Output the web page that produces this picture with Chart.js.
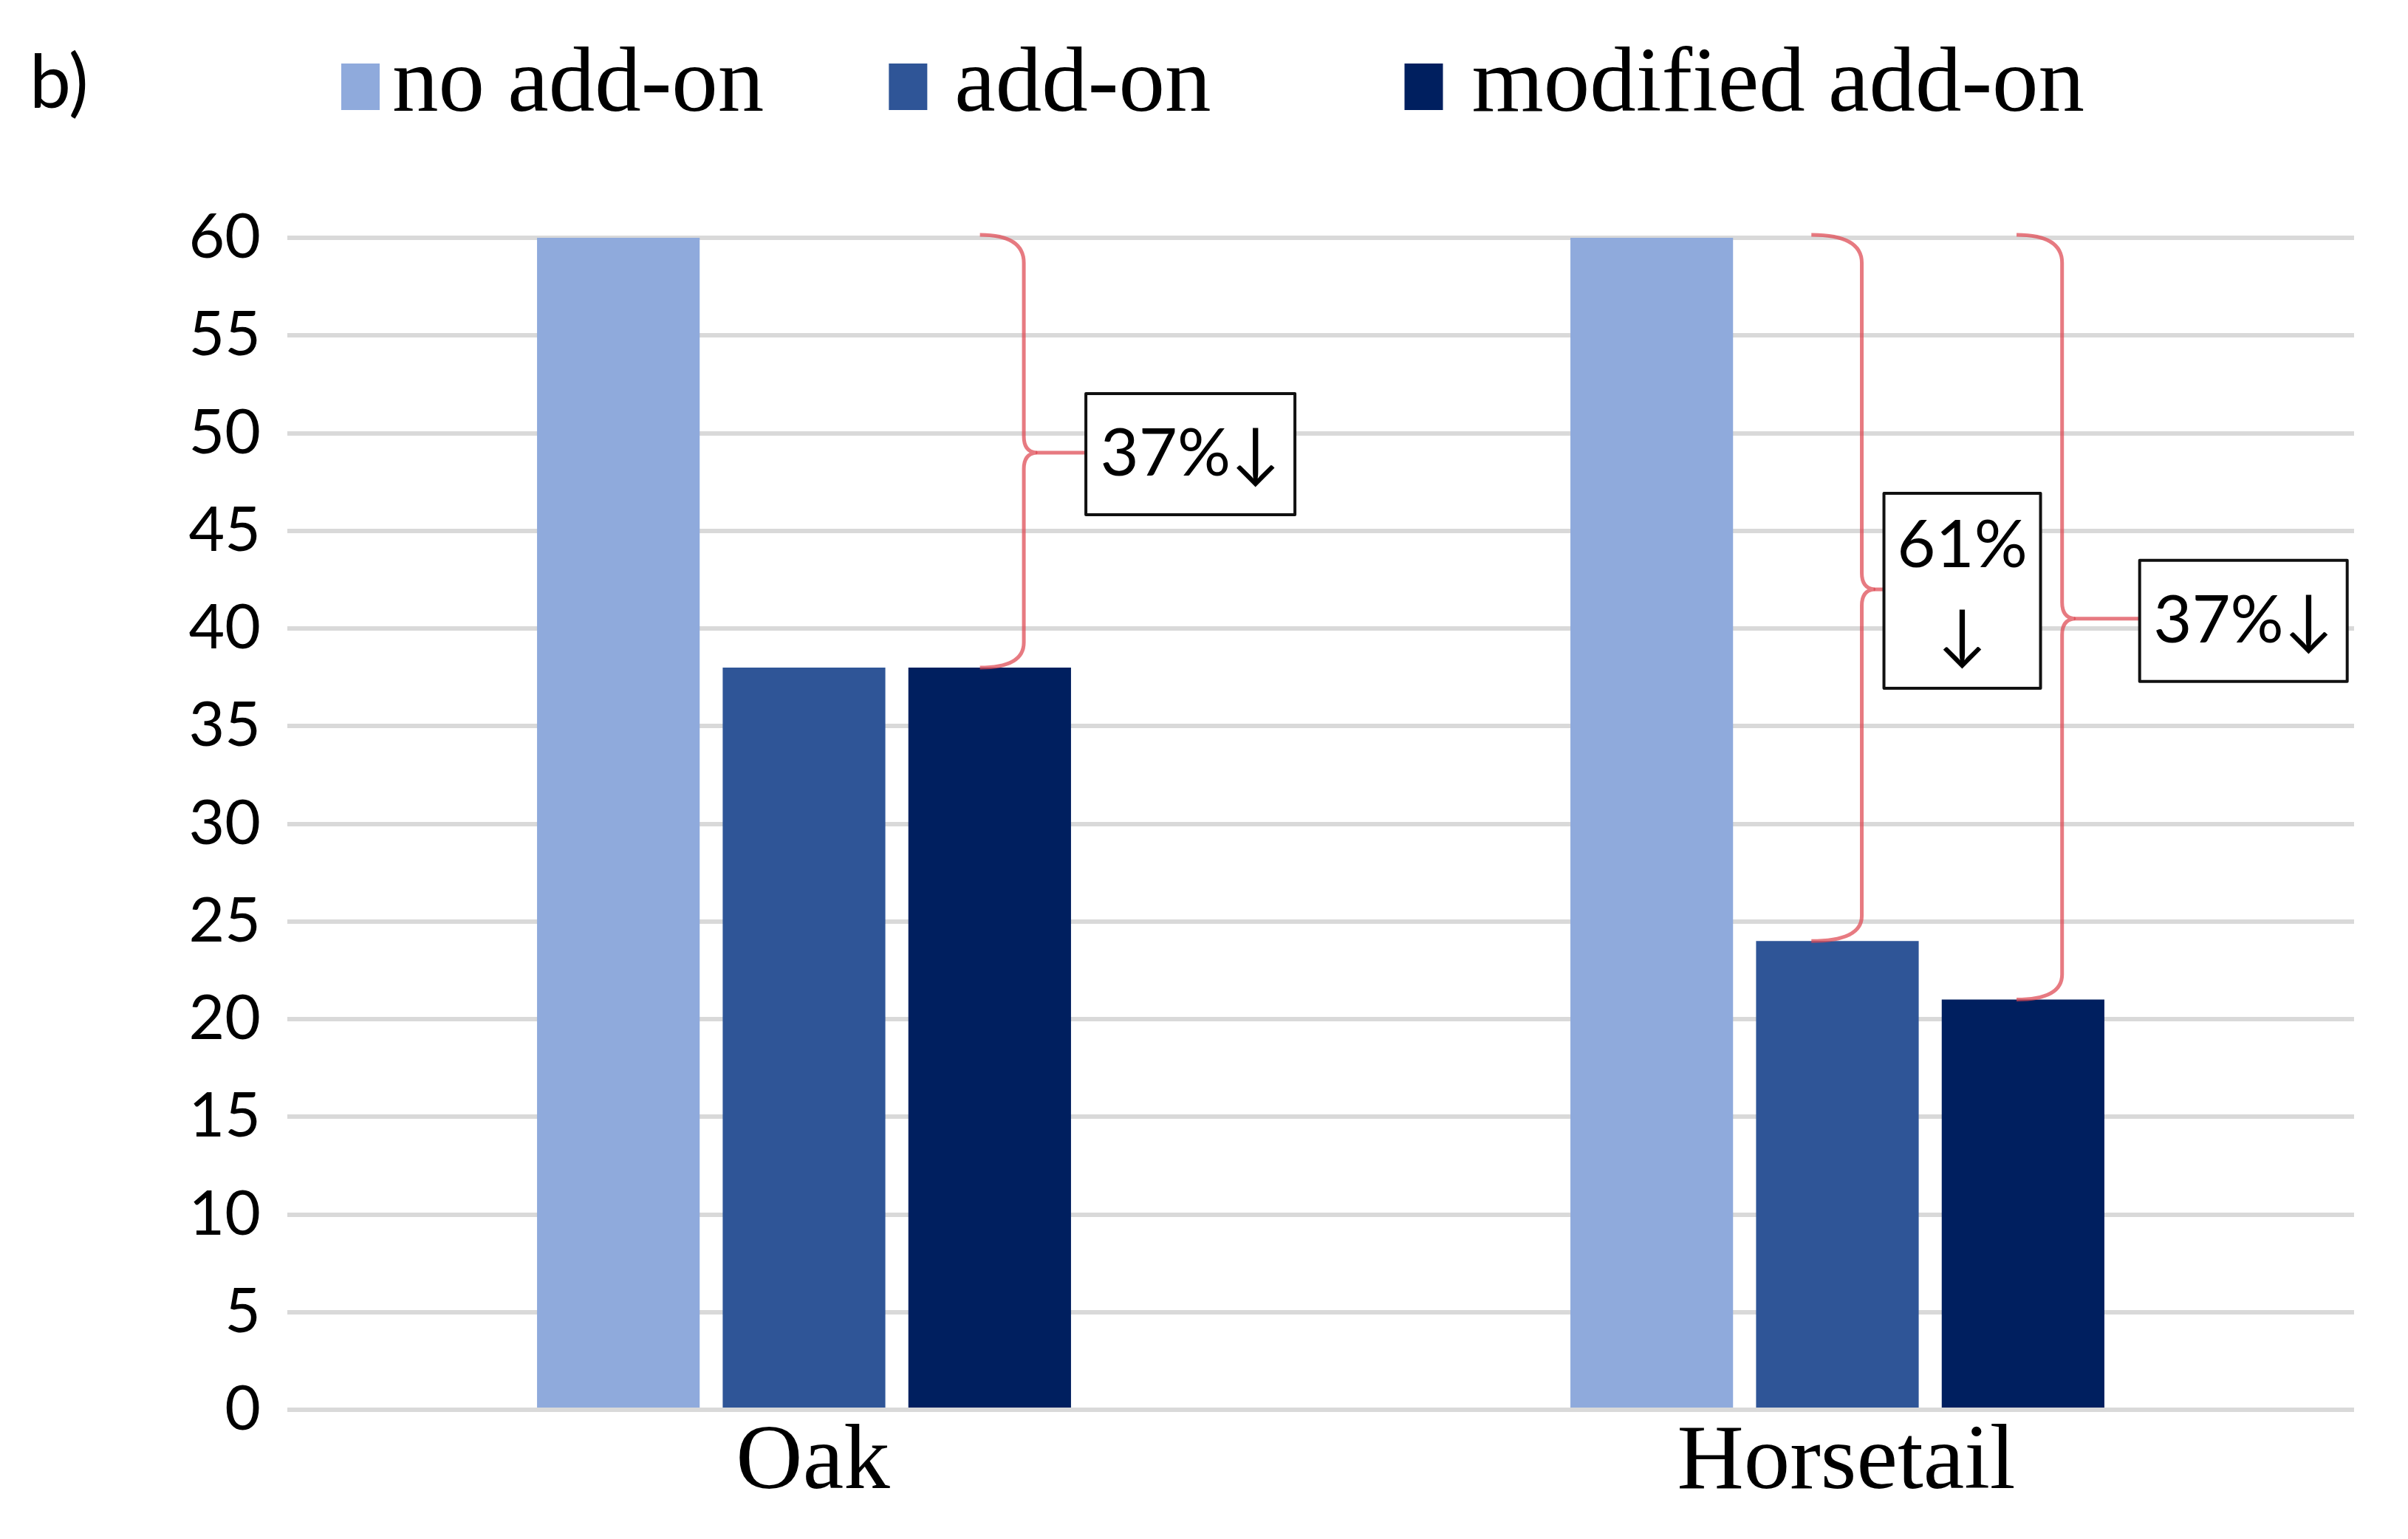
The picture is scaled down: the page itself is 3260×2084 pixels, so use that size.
<!DOCTYPE html>
<html>
<head>
<meta charset="utf-8">
<script src="https://cdn.jsdelivr.net/npm/chart.js@4"></script>
<style>
  html, body { margin: 0; padding: 0; background: #fff; }
</style>
</head>
<body>
<canvas id="myChart" width="3260" height="2084"></canvas>
<script>
// Chart data
const categories = ["Oak", "Horsetail"];
const noAddon = [60, 60];
const addon = [38, 24];
const modifiedAddon = [38, 21];
const seriesNames = ["no add-on", "add-on", "modified add-on"];
const yMax = 60;
const yStep = 5;

// Reduction braces: category index, series index it points down to, label lines
const braceCategory = [0, 1, 1];
const braceSeries = [2, 1, 2];
const braceText = [["37%↓"], ["61%", "↓"], ["37%↓"]];

const colors = ["#8faadc", "#2f5597", "#001f5f"];
const sansFont = "Lato, 'Open Sans', sans-serif";
const serifFont = "'Liberation Serif', 'DejaVu Serif', serif";

// Braces + boxed percentages drawn over the bars
const bracePlugin = {
  id: "braces",
  afterDatasetsDraw(chart, args, opts) {
    const ctx = chart.ctx;
    const yScale = chart.scales.y;
    braceCategory.forEach((cat, k) => {
      const st = opts.style[k];
      const bar = chart.getDatasetMeta(braceSeries[k]).data[cat];
      const top = yScale.getPixelForValue(chart.data.datasets[0].data[cat]);
      const bottom = yScale.getPixelForValue(chart.data.datasets[braceSeries[k]].data[cat]);
      const mid = (top + bottom) / 2;
      const xv = bar.x + bar.width * st.stem;
      const xh = bar.x + bar.width * st.hook;
      const tip = xv + 16;
      const r = 34;

      ctx.save();
      ctx.strokeStyle = "rgba(222, 70, 80, 0.72)";
      ctx.lineWidth = 5;
      ctx.lineJoin = "round";
      ctx.beginPath();
      ctx.moveTo(xh, top - 4);
      ctx.quadraticCurveTo(xv, top - 4, xv, top + r);
      ctx.lineTo(xv, mid - 22);
      ctx.quadraticCurveTo(xv, mid - 2, tip, mid);
      ctx.quadraticCurveTo(xv, mid + 2, xv, mid + 22);
      ctx.lineTo(xv, bottom - r);
      ctx.quadraticCurveTo(xv, bottom, xh, bottom);
      ctx.stroke();

      // box
      const bx = tip + st.gap;
      const by = mid - st.h / 2 + st.dy;
      if (st.gap > 0) {
        ctx.beginPath();
        ctx.moveTo(tip, mid);
        ctx.lineTo(bx, mid);
        ctx.stroke();
      }
      ctx.fillStyle = "#fff";
      ctx.fillRect(bx, by, st.w, st.h);
      ctx.strokeStyle = "#111";
      ctx.lineWidth = 4;
      ctx.strokeRect(bx, by, st.w, st.h);

      ctx.fillStyle = "#000";
      ctx.font = "90px " + sansFont;
      ctx.textAlign = "center";
      ctx.textBaseline = "middle";
      const lines = braceText[k];
      const lh = 122;
      lines.forEach((t, i) => {
        const ty = by + st.h / 2 + (i - (lines.length - 1) / 2) * lh;
        ctx.fillText(t, bx + st.w / 2, ty);
      });
      ctx.restore();
    });
  }
};

// Legend and panel letter drawn on top
const legendPlugin = {
  id: "topLegend",
  afterDraw(chart, args, opts) {
    const ctx = chart.ctx;
    ctx.save();
    ctx.fillStyle = "#000";
    ctx.font = "100px " + sansFont;
    ctx.textBaseline = "alphabetic";
    ctx.fillText("b)", 40, 146);

    ctx.font = "125px " + serifFont;
    let x = opts.startX;
    seriesNames.forEach((name, i) => {
      ctx.fillStyle = colors[i];
      ctx.fillRect(x, 86, 52, 63);
      ctx.fillStyle = "#000";
      ctx.fillText(name, x + opts.textOffset[i], 150);
      x += opts.textOffset[i] + ctx.measureText(name).width + (opts.gaps[i] || 0);
    });
    ctx.restore();
  }
};

const ctx = document.getElementById("myChart").getContext("2d");
const chart = new Chart(ctx, {
  type: "bar",
  data: {
    labels: categories,
    datasets: [
      { label: seriesNames[0], data: noAddon, backgroundColor: colors[0] },
      { label: seriesNames[1], data: addon, backgroundColor: colors[1] },
      { label: seriesNames[2], data: modifiedAddon, backgroundColor: colors[2] },
    ],
  },
  options: {
    responsive: false,
    animation: false,
    devicePixelRatio: 1,
    layout: { padding: { top: 322, right: 73, bottom: 0, left: 0 } },
    datasets: {
      bar: { categoryPercentage: 0.539, barPercentage: 0.876 },
    },
    plugins: {
      legend: { display: false },
      tooltip: { enabled: false },
      braces: {
        style: [
          { stem: 0.21, hook: -0.06, gap: 68, w: 283, h: 164, dy: 2 },
          { stem: 0.15, hook: -0.16, gap: 14, w: 212, h: 264, dy: 2 },
          { stem: 0.24, hook: -0.04, gap: 89, w: 281, h: 164, dy: 3 },
        ],
      },
      topLegend: { startX: 462, textOffset: [69, 89, 91], gaps: [169, 262] },
    },
    scales: {
      x: {
        grid: { display: false },
        border: { display: false },
        ticks: {
          color: "#000",
          padding: -10,
          labelOffset: 12,
          font: { family: serifFont, size: 125 },
        },
        afterFit: (s) => {
          s.height = 175;
          s.paddingLeft = 0;
          s.paddingRight = 0;
        },
      },
      y: {
        min: 0,
        max: yMax,
        border: { display: false },
        grid: { color: "#d9d9d9", lineWidth: 6, drawTicks: false },
        ticks: {
          stepSize: yStep,
          color: "#000",
          padding: 36,
          font: { family: sansFont, size: 84 },
        },
        afterFit: (s) => {
          s.width = 389;
          s.paddingTop = 0;
          s.paddingBottom = 0;
        },
      },
    },
  },
  plugins: [bracePlugin, legendPlugin],
});
</script>
</body>
</html>
